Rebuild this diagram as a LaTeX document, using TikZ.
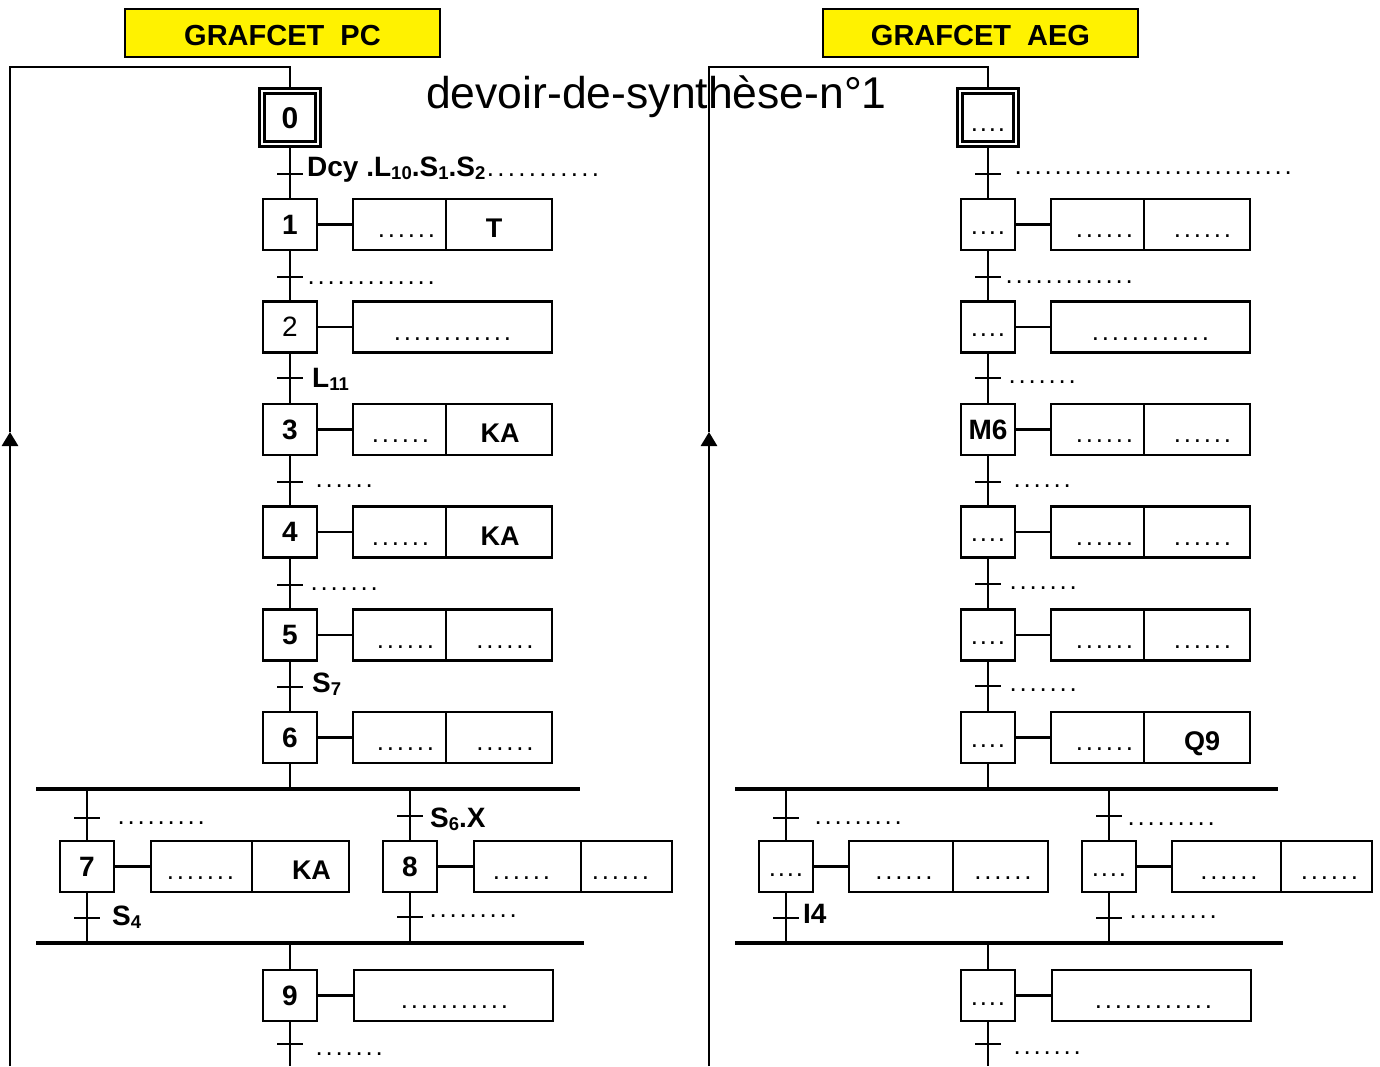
\documentclass[tikz,border=0pt]{standalone}
\usepackage{fontspec}
\setmainfont{Liberation Sans}
\usetikzlibrary{arrows.meta}
\newcount\dcnt
\newcommand\dts[2][10pt]{{\mdseries\fontsize{26}{26}\selectfont\dcnt=0\relax\loop\ifnum\dcnt<#2\relax\hbox to #1{\hss.\hss}\advance\dcnt by 1\relax\repeat}}
\newcommand\sh[2]{\makebox[0pt][c]{\hspace*{#1}#2\hspace*{-#1}}}
\newcommand\sub[1]{\raisebox{-3.5pt}{\fontsize{18.5}{18.5}\selectfont #1}}
\tikzset{
 lnk/.style={line width=2.7pt},
 bar/.style={line width=3.2pt},
 stp/.style={draw, line width=2.7pt, fill=white, minimum width=54pt, minimum height=51pt, inner sep=0pt, text height=19.5pt, text depth=0pt, font=\fontsize{28}{28}\selectfont\bfseries},
 initstp/.style={stp, line width=2.4pt, double, double distance=2.6pt, minimum width=56pt, minimum height=53pt},
 cell/.style={draw, line width=2.7pt, fill=white, minimum height=51pt, inner sep=0pt, text height=26pt, text depth=0pt, font=\fontsize{27}{27}\selectfont\bfseries},
 trs/.style={anchor=base west, inner sep=0pt, font=\fontsize{28}{28}\selectfont\bfseries},
 ttlbox/.style={draw, line width=1.3pt, fill=yellow, minimum width=315pt, minimum height=48pt, inner sep=0pt, text height=24pt, text depth=0pt, font=\fontsize{29}{29}\selectfont\bfseries},
 tick/.style={line width=2.7pt},
 loopar/.style={lnk, -{Triangle[width=16pt,length=14pt]}}
}
\begin{document}
\begin{tikzpicture}[x=1pt,y=-1pt]
\useasboundingbox (0,0) rectangle (1380,1066);
% overlay text
\node[anchor=base west, inner sep=0pt, font=\fontsize{44.5}{44.5}\selectfont] (wm) at (426,108) {devoir-de-synthèse-n°1};

% ================= LEFT : GRAFCET PC =================
\node[ttlbox] (tpc) at (282.5,33) {GRAFCET~~PC};
\node[initstp] (s0) at (290,117.5) {\fontsize{30}{30}\selectfont\raisebox{-1.5pt}{0}};
\node[stp] (s1) at (290,224.5) {1};
\node[stp] (s2) at (290,327) {\mdseries 2};
\node[stp] (s3) at (290,429.5) {3};
\node[stp] (s4) at (290,532) {4};
\node[stp] (s5) at (290,635) {5};
\node[stp] (s6) at (290,737.5) {6};
\node[stp] (s7) at (87,866.5) {7};
\node[stp] (s8) at (410,866.5) {8};
\node[stp] (s9) at (290,995.5) {9};

% actions
\node[cell, minimum width=93pt] (a1l) at (399.5,224.5) {\sh{7pt}{\dts{6}}};
\node[cell, minimum width=106pt] (a1r) at (499,224.5) {\sh{-5pt}{T}};
\node[cell, minimum width=199pt] (a2) at (452.5,327) {\dts{12}};
\node[cell, minimum width=93pt] (a3l) at (399.5,429.5) {\sh{1pt}{\dts{6}}};
\node[cell, minimum width=106pt] (a3r) at (499,429.5) {\sh{1pt}{KA}};
\node[cell, minimum width=93pt] (a4l) at (399.5,532) {\sh{1pt}{\dts{6}}};
\node[cell, minimum width=106pt] (a4r) at (499,532) {\sh{1pt}{KA}};
\node[cell, minimum width=93pt] (a5l) at (399.5,635) {\sh{6pt}{\dts{6}}};
\node[cell, minimum width=106pt] (a5r) at (499,635) {\sh{6pt}{\dts{6}}};
\node[cell, minimum width=93pt] (a6l) at (399.5,737.5) {\sh{6pt}{\dts{6}}};
\node[cell, minimum width=106pt] (a6r) at (499,737.5) {\sh{6pt}{\dts{6}}};
\node[cell, minimum width=101pt] (a7l) at (201.5,866.5) {\sh{-1pt}{\dts{7}}};
\node[cell, minimum width=97pt] (a7r) at (300.5,866.5) {\sh{11pt}{KA}};
\node[cell, minimum width=107pt] (a8l) at (527.5,866.5) {\sh{-6pt}{\dts{6}}};
\node[cell, minimum width=91pt] (a8r) at (626.5,866.5) {\sh{-6pt}{\dts{6}}};
\node[cell, minimum width=199pt] (a9) at (453.5,995.5) {\sh{1pt}{\dts{11}}};

\foreach \s/\a in {s1/a1l,s2/a2,s3/a3l,s4/a4l,s5/a5l,s6/a6l,s7/a7l,s8/a8l,s9/a9}
  \draw[lnk] (\s.east) -- (\a.west);

% loop
\coordinate (lb) at (10,1066);
\coordinate (la) at (10,432);
\coordinate (ltl) at (10,67);
\coordinate (ltr) at (290,67);
\draw[loopar] (lb) -- (la);
\draw[lnk] (la) -- (ltl) -- (ltr) -- (s0);

% chain
\draw[lnk] (s0) -- (s1);
\draw[lnk] (s1) -- (s2);
\draw[lnk] (s2) -- (s3);
\draw[lnk] (s3) -- (s4);
\draw[lnk] (s4) -- (s5);
\draw[lnk] (s5) -- (s6);
\coordinate (b1l) at (36,789);
\coordinate (b1r) at (580,789);
\coordinate (b1m) at (290,789);
\coordinate (b2l) at (36,943);
\coordinate (b2r) at (584,943);
\coordinate (b2m) at (290,943);
\draw[bar] (b1l) -- (b1r);
\draw[bar] (b2l) -- (b2r);
\draw[lnk] (s6) -- (b1m);
\coordinate (b7t) at (87,789);
\coordinate (b7b) at (87,943);
\coordinate (b8t) at (410,789);
\coordinate (b8b) at (410,943);
\draw[lnk] (b7t) -- (s7);
\draw[lnk] (s7) -- (b7b);
\draw[lnk] (b8t) -- (s8);
\draw[lnk] (s8) -- (b8b);
\draw[lnk] (b2m) -- (s9);
\coordinate (ebot) at (290,1066);
\draw[lnk] (s9) -- (ebot);

% transitions
\foreach \n/\x/\y in {t0/290/174,t1/290/277,t2/290/378,t3/290/482,t4/290/585,t5/290/687,t9/290/1044,t7a/87/818,t7b/87/918,t8a/410/816,t8b/410/917}{
  \coordinate (\n) at (\x,\y);
  \draw[tick] ([xshift=-13pt]\n) -- ([xshift=13pt]\n);
}
\node[trs] (l0) at (307,176) {Dcy .L\sub{10}.S\sub{1}.S\sub{2}\dts[10.5pt]{11}};
\node[trs] (l1) at (306,284) {\dts{13}};
\node[trs] (l2) at (312,387) {L\sub{11}};
\node[trs] (l3) at (314,487) {\dts{6}};
\node[trs] (l4) at (309,590) {\dts{7}};
\node[trs] (l5) at (312,692) {S\sub{7}};
\node[trs] (l7a) at (116,824) {\dts{9}};
\node[trs] (l8a) at (430,827) {S\sub{6}.X};
\node[trs] (l7b) at (112,925) {S\sub{4}};
\node[trs] (l8b) at (428,917) {\dts{9}};
\node[trs] (l9) at (314,1055) {\dts{7}};

% ================= RIGHT : GRAFCET AEG =================
\node[ttlbox] (taeg) at (980.5,33) {GRAFCET~~AEG};
\node[initstp] (r0) at (988,117.5) {\raisebox{-4pt}{\dts[9pt]{4}}};
\node[stp] (r1) at (988,224.5) {\dts[9pt]{4}};
\node[stp] (r2) at (988,327) {\dts[9pt]{4}};
\node[stp] (r3) at (988,429.5) {M6};
\node[stp] (r4) at (988,532) {\dts[9pt]{4}};
\node[stp] (r5) at (988,635) {\dts[9pt]{4}};
\node[stp] (r6) at (988,737.5) {\dts[9pt]{4}};
\node[stp] (r7) at (786,866.5) {\dts[9pt]{4}};
\node[stp] (r8) at (1109,866.5) {\dts[9pt]{4}};
\node[stp] (r9) at (988,995.5) {\dts[9pt]{4}};

\node[cell, minimum width=93pt] (ra1l) at (1097.5,224.5) {\sh{7pt}{\dts{6}}};
\node[cell, minimum width=106pt] (ra1r) at (1197,224.5) {\sh{5.5pt}{\dts{6}}};
\node[cell, minimum width=199pt] (ra2) at (1150.5,327) {\dts{12}};
\node[cell, minimum width=93pt] (ra3l) at (1097.5,429.5) {\sh{7pt}{\dts{6}}};
\node[cell, minimum width=106pt] (ra3r) at (1197,429.5) {\sh{5.5pt}{\dts{6}}};
\node[cell, minimum width=93pt] (ra4l) at (1097.5,532) {\sh{7pt}{\dts{6}}};
\node[cell, minimum width=106pt] (ra4r) at (1197,532) {\sh{5.5pt}{\dts{6}}};
\node[cell, minimum width=93pt] (ra5l) at (1097.5,635) {\sh{7pt}{\dts{6}}};
\node[cell, minimum width=106pt] (ra5r) at (1197,635) {\sh{5.5pt}{\dts{6}}};
\node[cell, minimum width=93pt] (ra6l) at (1097.5,737.5) {\sh{7pt}{\dts{6}}};
\node[cell, minimum width=106pt] (ra6r) at (1197,737.5) {\sh{5pt}{Q9}};
\node[cell, minimum width=104pt] (ra7l) at (901,866.5) {\sh{3pt}{\dts{6}}};
\node[cell, minimum width=95pt] (ra7r) at (1000.5,866.5) {\sh{2.5pt}{\dts{6}}};
\node[cell, minimum width=109pt] (ra8l) at (1226.5,866.5) {\sh{2.5pt}{\dts{6}}};
\node[cell, minimum width=91pt] (ra8r) at (1326.5,866.5) {\sh{3pt}{\dts{6}}};
\node[cell, minimum width=199pt] (ra9) at (1151.5,995.5) {\sh{2pt}{\dts{12}}};

\foreach \s/\a in {r1/ra1l,r2/ra2,r3/ra3l,r4/ra4l,r5/ra5l,r6/ra6l,r7/ra7l,r8/ra8l,r9/ra9}
  \draw[lnk] (\s.east) -- (\a.west);

\coordinate (rlb) at (709,1066);
\coordinate (rla) at (709,432);
\coordinate (rltl) at (709,67);
\coordinate (rltr) at (988,67);
\draw[loopar] (rlb) -- (rla);
\draw[lnk] (rla) -- (rltl) -- (rltr) -- (r0);

\draw[lnk] (r0) -- (r1);
\draw[lnk] (r1) -- (r2);
\draw[lnk] (r2) -- (r3);
\draw[lnk] (r3) -- (r4);
\draw[lnk] (r4) -- (r5);
\draw[lnk] (r5) -- (r6);
\coordinate (rb1l) at (735,789);
\coordinate (rb1r) at (1278,789);
\coordinate (rb1m) at (988,789);
\coordinate (rb2l) at (735,943);
\coordinate (rb2r) at (1283,943);
\coordinate (rb2m) at (988,943);
\draw[bar] (rb1l) -- (rb1r);
\draw[bar] (rb2l) -- (rb2r);
\draw[lnk] (r6) -- (rb1m);
\coordinate (rb7t) at (786,789);
\coordinate (rb7b) at (786,943);
\coordinate (rb8t) at (1109,789);
\coordinate (rb8b) at (1109,943);
\draw[lnk] (rb7t) -- (r7);
\draw[lnk] (r7) -- (rb7b);
\draw[lnk] (rb8t) -- (r8);
\draw[lnk] (r8) -- (rb8b);
\draw[lnk] (rb2m) -- (r9);
\coordinate (rebot) at (988,1066);
\draw[lnk] (r9) -- (rebot);

\foreach \n/\x/\y in {rt0/988/174,rt1/988/277,rt2/988/378,rt3/988/482,rt4/988/584,rt5/988/686,rt9/988/1044,rt7a/786/818,rt7b/786/918,rt8a/1109/816,rt8b/1109/918}{
  \coordinate (\n) at (\x,\y);
  \draw[tick] ([xshift=-13pt]\n) -- ([xshift=13pt]\n);
}
\node[trs] (rl0) at (1013,174) {\dts{28}};
\node[trs] (rl1) at (1004,283) {\dts{13}};
\node[trs] (rl2) at (1007,383) {\dts{7}};
\node[trs] (rl3) at (1012,487) {\dts{6}};
\node[trs] (rl4) at (1008,589) {\dts{7}};
\node[trs] (rl5) at (1008,691) {\dts{7}};
\node[trs] (rl7a) at (813,824) {\dts{9}};
\node[trs] (rl8a) at (1126,825) {\dts{9}};
\node[trs] (rl7b) at (803,923) {I4};
\node[trs] (rl8b) at (1128,918) {\dts{9}};
\node[trs] (rl9) at (1012,1054) {\dts{7}};
\end{tikzpicture}
\end{document}
